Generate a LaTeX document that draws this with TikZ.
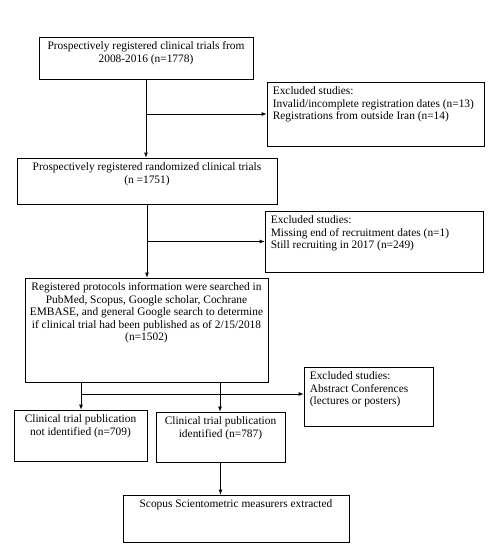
\documentclass[tikz,border=0pt]{standalone}
\usepackage{fontspec}
\setmainfont{Liberation Serif}
\usetikzlibrary{arrows.meta}

\begin{document}
\begin{tikzpicture}[x=1pt,y=-1pt,
    box/.style={draw=black,rectangle,inner sep=0pt,line width=0.8pt},
    toptext/.style={anchor=north,align=center,yshift=-3pt,inner sep=2pt},
    lefttext/.style={anchor=north west,align=left,xshift=4pt,yshift=-3pt,inner sep=2pt},
    arr/.style={-{Latex[length=5pt,width=4pt]},line width=0.8pt},
    font=\fontsize{11.4}{12.5}\selectfont]

    \useasboundingbox (0,0) rectangle (488,554);

    % Place the nodes
    \node[box,minimum width=214pt,minimum height=42pt,
      label={[toptext]north:Prospectively registered clinical trials from\\2008-2016 (n=1778)}] (trials) at (146,58) {};
    \node[box,minimum width=217pt,minimum height=64pt,
      label={[lefttext]north west:Excluded studies:\\Invalid/incomplete registration dates (n=13)\\Registrations from outside Iran (n=14)}] (excl1) at (375.5,114) {};
    \node[box,minimum width=260pt,minimum height=46pt,
      label={[toptext]north:Prospectively registered randomized clinical trials\\(n =1751)}] (rct) at (147,181) {};
    \node[box,minimum width=218pt,minimum height=61pt,
      label={[lefttext]north west:Excluded studies:\\Missing end of recruitment dates (n=1)\\Still recruiting in 2017 (n=249)}] (excl2) at (374,241.5) {};
    \node[box,minimum width=243pt,minimum height=104pt,
      label={[toptext]north:Registered protocols information were searched in\\PubMed, Scopus, Google scholar, Cochrane\\EMBASE, and general Google search to determine\\if clinical trial had been published as of 2/15/2018\\(n=1502)}] (search) at (146.5,330) {};
    \node[box,minimum width=129pt,minimum height=59pt,
      label={[lefttext]north west:Excluded studies:\\Abstract Conferences\\(lectures or posters)}] (excl3) at (368.5,396.5) {};
    \node[box,minimum width=133pt,minimum height=51pt,
      label={[toptext]north:Clinical trial publication\\not identified (n=709)}] (notid) at (80.5,435.5) {};
    \node[box,minimum width=129pt,minimum height=50pt,
      label={[toptext]north:Clinical trial publication\\identified (n=787)}] (ident) at (220.5,437) {};
    \node[box,minimum width=226pt,minimum height=47pt,
      label={[toptext]north:Scopus Scientometric measurers extracted}] (scopus) at (236,518.5) {};

    % Junction points
    \coordinate (j1) at (trials.south |- excl1.west);
    \coordinate (j2) at (rct.south |- excl2.west);
    \coordinate (jl) at (81,382);
    \coordinate (jr) at (220,382);
    \coordinate (jh) at (81,394);

    % Draw the lines
    \draw[arr] (trials.south) -- (trials.south |- rct.north);
    \draw[arr] (j1) -- (excl1.west);
    \draw[arr] (rct.south) -- (rct.south |- search.north);
    \draw[arr] (j2) -- (excl2.west);
    \draw[arr] (jl) -- (jl |- notid.north);
    \draw[arr] (jr) -- (jr |- ident.north);
    \draw[arr] (jh) -- (jh -| excl3.west);
    \draw[arr] (ident.south) -- (ident.south |- scopus.north);

\end{tikzpicture}
\end{document}
